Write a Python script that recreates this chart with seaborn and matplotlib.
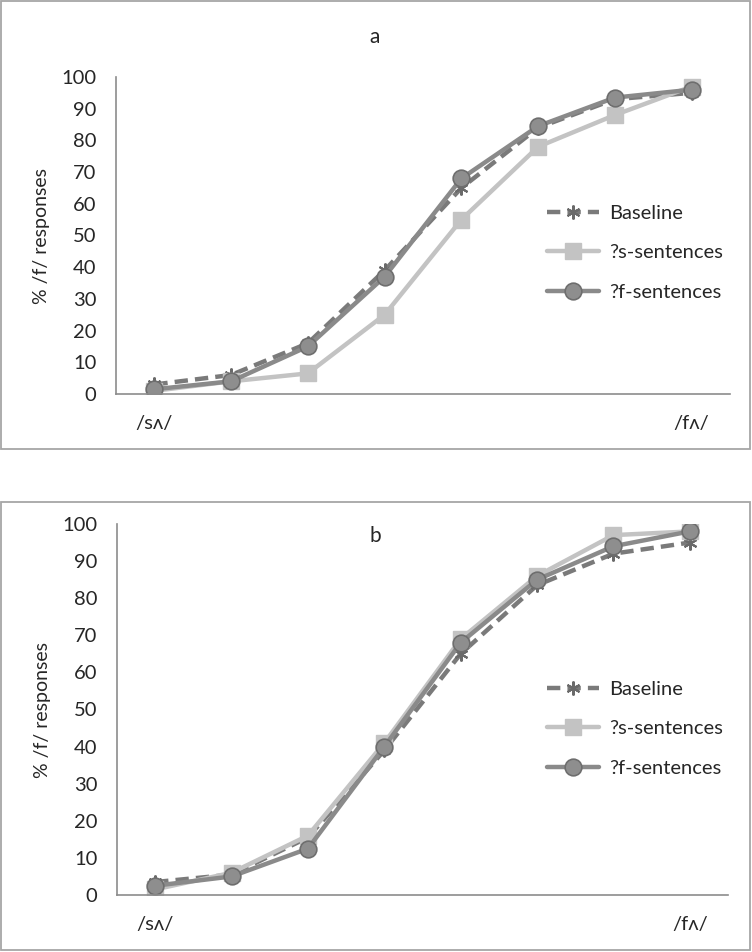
import numpy as np
import pandas as pd
import matplotlib
matplotlib.use("Agg")
import matplotlib.pyplot as plt
import seaborn as sns
from matplotlib.patches import Rectangle
from matplotlib.lines import Line2D

# --- data ---
steps = list(range(8))
tick_labels = ["/sʌ/", "", "", "", "", "", "", "/fʌ/"]
series_names = ["Baseline", "?s-sentences", "?f-sentences"]

a_baseline = [3, 6, 16, 39, 65, 84, 93, 95]
a_s = [1, 4, 6.5, 25, 55, 78, 88, 97]
a_f = [1.5, 4, 15, 37, 68, 84.5, 93.5, 96]

b_baseline = [3.5, 5.5, 15.5, 39, 65, 83.5, 92, 95]
b_s = [1.5, 6, 16, 41, 69, 86, 97, 98]
b_f = [2.5, 5, 12.5, 40, 68, 85, 94, 98]

sns.set_style("white")
plt.rcParams['font.family'] = ['Lato', 'DejaVu Sans']

styles = {
    "Baseline": dict(color="#7a7a7a", ls=(0, (3, 1.6)), marker=(6, 2, 0), ms=10, mfc="#7a7a7a", mec="#6a6a6a", mew=1.5),
    "?s-sentences": dict(color="#c3c3c3", ls="-", marker="s", ms=11, mfc="#c3c3c3", mec="#c3c3c3", mew=1),
    "?f-sentences": dict(color="#8a8a8a", ls="-", marker="o", ms=12, mfc="#8e8e8e", mec="#6e6e6e", mew=1.2),
}

fig = plt.figure(figsize=(7.52, 9.52), dpi=100)
W, H = 752, 952


def fx(px):
    return px / W


def fy(py):
    return 1 - py / H


# panel borders
for top, bot in [(1, 449), (502, 950)]:
    fig.patches.append(Rectangle((fx(1), fy(bot)), fx(750) - fx(1), fy(top) - fy(bot),
                                 transform=fig.transFigure, fill=False, ec="#a6a6a6", lw=1.3))


def draw_panel(rect, vals, title, title_y, legend_y):
    ax = fig.add_axes(rect)
    df = pd.DataFrame({"step": steps * 3,
                       "pct": vals[0] + vals[1] + vals[2],
                       "cond": sum([[n] * 8 for n in series_names], [])})
    for n in series_names:
        st = styles[n]
        sub = df[df["cond"] == n]
        sns.lineplot(data=sub, x="step", y="pct", ax=ax, color=st["color"], lw=3.2,
                     linestyle=st["ls"], marker=st["marker"], markersize=st["ms"],
                     markerfacecolor=st["mfc"], markeredgecolor=st["mec"],
                     markeredgewidth=st["mew"], legend=False)
    ax.set_xlim(-0.5, 7.5)
    ax.set_ylim(0, 100)
    ax.set_yticks(range(0, 101, 10))
    ax.set_xticks(steps)
    ax.set_xticklabels(tick_labels, fontsize=14.5)
    ax.set_xticks(np.arange(-0.5, 8, 1), minor=True)
    ax.tick_params(axis="x", which="major", length=0, pad=15)
    ax.tick_params(axis="x", which="minor", length=6, width=1, color="#8c8c8c", direction="out")
    ax.tick_params(axis="y", length=6, width=1, color="#8c8c8c", direction="out", labelsize=14.5, pad=8)
    for s in ["top", "right"]:
        ax.spines[s].set_visible(False)
    for s in ["left", "bottom"]:
        ax.spines[s].set_color("#8c8c8c")
        ax.spines[s].set_linewidth(1.2)
    ax.set_xlabel("")
    ax.set_ylabel("% /f/ responses", fontsize=14, labelpad=8)
    fig.text(fx(375), fy(title_y), title, ha="center", va="center", fontsize=15)
    handles = []
    for n in series_names:
        st = styles[n]
        handles.append(Line2D([], [], color=st["color"], lw=3.2, linestyle=st["ls"],
                              marker=st["marker"], markersize=st["ms"],
                              markerfacecolor=st["mfc"], markeredgecolor=st["mec"],
                              markeredgewidth=st["mew"]))
    ax.legend(handles, series_names, loc="upper left", bbox_to_anchor=(fx(529), fy(legend_y)),
              bbox_transform=fig.transFigure, frameon=False, fontsize=14.5,
              handlelength=2.6, labelspacing=1.1, handletextpad=0.5)
    return ax


draw_panel([fx(116), fy(394), fx(730) - fx(116), fy(77) - fy(394)],
           [a_baseline, a_s, a_f], "a", 37, 187)
draw_panel([fx(117), fy(895), fx(728) - fx(117), fy(524) - fy(895)],
           [b_baseline, b_s, b_f], "b", 536, 663)

fig.savefig("out.png", dpi=100)
